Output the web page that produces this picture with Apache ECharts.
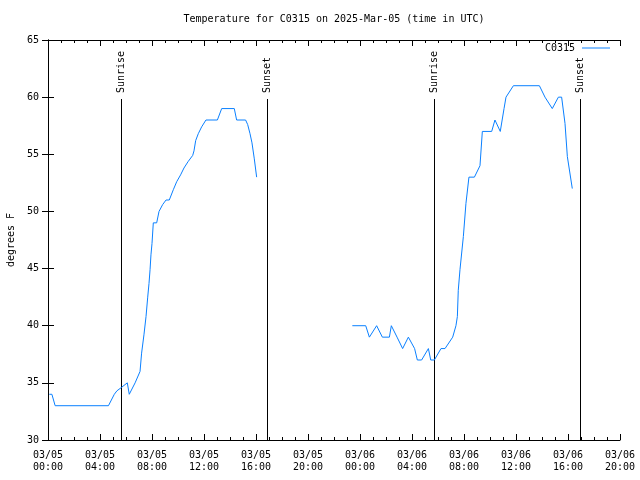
<!DOCTYPE html>
<html><head><meta charset="utf-8">
<script src="https://cdn.jsdelivr.net/npm/echarts@6/dist/echarts.min.js"></script>
<style>html,body{margin:0;padding:0;background:#fff}#c{width:640px;height:480px}</style>
</head><body><div id="c"></div>
<script>
// hours since 03/05 00:00 UTC
const day1Hours = [0.1,0.3,0.55,4.65,5.1,5.3,5.65,6.1,6.25,6.7,7.08,7.2,7.38,7.54,7.67,7.77,7.85,7.92,8.0,8.1,8.36,8.54,8.82,9.08,9.33,9.64,9.9,10.2,10.46,10.77,11.13,11.23,11.36,11.56,11.82,12.15,13.03,13.36,14.33,14.51,15.2,15.36,15.54,15.69,15.87,16.05];
const day1Temps = [34,34,33,33,34,34.3,34.6,35,34,35,36,37.6,39.2,40.8,42.5,43.7,44.9,46.2,47.2,49,49,50,50.6,51,51,51.9,52.6,53.2,53.8,54.35,54.9,55.3,56.2,56.8,57.4,58,58,59,59,58,58,57.6,56.8,56,54.6,53];
const day2Hours = [23.41,24.44,24.72,25.28,25.72,26.26,26.41,26.85,27.28,27.72,28.2,28.41,28.74,29.26,29.44,29.72,30.23,30.54,31.13,31.38,31.49,31.56,31.69,31.95,32.15,32.38,32.8,33.23,33.41,34.13,34.38,34.79,35.08,35.23,35.8,37.8,38.23,38.79,39.26,39.51,39.77,39.95,40.33];
const day2Temps = [40,40,39,40,39,39,40,39,38,39,38,37,37,38,37,37,38,38,39,40,40.8,43.1,44.9,47.8,50.7,53,53,54,57,57,58,57,59,60,61,61,60,59,60,60,57.7,54.8,52];
const sunHours = [5.62,16.82,29.72,40.95];
const sunLabels = ['Sunrise','Sunset','Sunrise','Sunset'];
const sunLineTop = 59.8;
const seriesName = 'C0315';
const titleText = 'Temperature for C0315 on 2025-Mar-05 (time in UTC)';
const yLabel = 'degrees F';

const FONT = 'DejaVu Sans Mono';
const lineData = [];
day1Hours.forEach((h,i)=>lineData.push([h, day1Temps[i]]));
lineData.push([20, null]);
day2Hours.forEach((h,i)=>lineData.push([h, day2Temps[i]]));

function xFmt(v){
  const d = 5 + Math.floor(v/24);
  const hh = Math.round(v - (d-5)*24);
  return '03/' + String(d).padStart(2,'0') + '\n' + String(hh).padStart(2,'0') + ':00';
}
const xCommon = {
  type:'value', min:0, max:44, interval:4,
  axisLine:{show:true, lineStyle:{color:'#000', width:1}},
  axisTick:{show:true, inside:true, length:6, lineStyle:{color:'#000'}},
  minorTick:{show:true, splitNumber:4, length:3, lineStyle:{color:'#000'}},
  splitLine:{show:false}
};
const yCommon = {
  type:'value', min:30, max:65, interval:5,
  axisLine:{show:true, lineStyle:{color:'#000', width:1}},
  axisTick:{show:true, inside:true, length:6, lineStyle:{color:'#000'}},
  splitLine:{show:false}
};
const chart = echarts.init(document.getElementById('c'), null, {renderer:'canvas'});
chart.setOption({
  animation:false,
  backgroundColor:'#fff',
  title:{text:titleText, left:334, textAlign:'center', top:14, padding:0,
    textStyle:{fontFamily:FONT, fontSize:10, fontWeight:'normal', color:'#000'}},
  legend:{data:[seriesName], right:30, top:43, padding:0, align:'right', itemWidth:28, itemHeight:1, icon:'rect',
    itemGap:5, textStyle:{fontFamily:FONT, fontSize:10, color:'#000', padding:[0,2,0,0]}},
  grid:{left:48, right:20, top:40, bottom:40, containLabel:false, outerBoundsMode:'none'},
  xAxis:[
    Object.assign({}, xCommon, {position:'bottom',
      axisLabel:{show:true, margin:9, formatter:xFmt, fontFamily:FONT, fontSize:10, color:'#000', lineHeight:12}}),
    Object.assign({}, xCommon, {position:'top', axisLabel:{show:false}})
  ],
  yAxis:[
    Object.assign({}, yCommon, {position:'left', name:yLabel, nameLocation:'middle', nameGap:30, nameRotate:90,
      nameTextStyle:{fontFamily:FONT, fontSize:10, color:'#000'},
      axisLabel:{show:true, margin:9, fontFamily:FONT, fontSize:10, color:'#000'}}),
    Object.assign({}, yCommon, {position:'right', axisLabel:{show:false}})
  ],
  series:[
    {name:seriesName, type:'line', data:lineData, showSymbol:false, symbol:'none', connectNulls:false,
      color:'#0a80ff', lineStyle:{color:'#0a80ff', width:1}, z:3},
    {type:'custom', data:sunHours.map(h=>[h]), encode:{x:0}, z:2, silent:true, clip:false,
      renderItem:function(params, api){
        const t = api.value(0);
        const top = api.coord([t, sunLineTop]);
        const bot = api.coord([t, 30]);
        const x = Math.round(top[0]) + 0.5;
        return {type:'group', children:[
          {type:'line', shape:{x1:x, y1:bot[1], x2:x, y2:Math.round(top[1])}, style:{stroke:'#000', lineWidth:1}},
          {type:'text', x:x, y:Math.round(top[1]) - 6, rotation:Math.PI/2,
            style:{text:sunLabels[params.dataIndex], align:'left', verticalAlign:'middle',
              font:'10px "' + FONT + '"', fill:'#000'}}
        ]};
      }}
  ]
});
</script></body></html>
